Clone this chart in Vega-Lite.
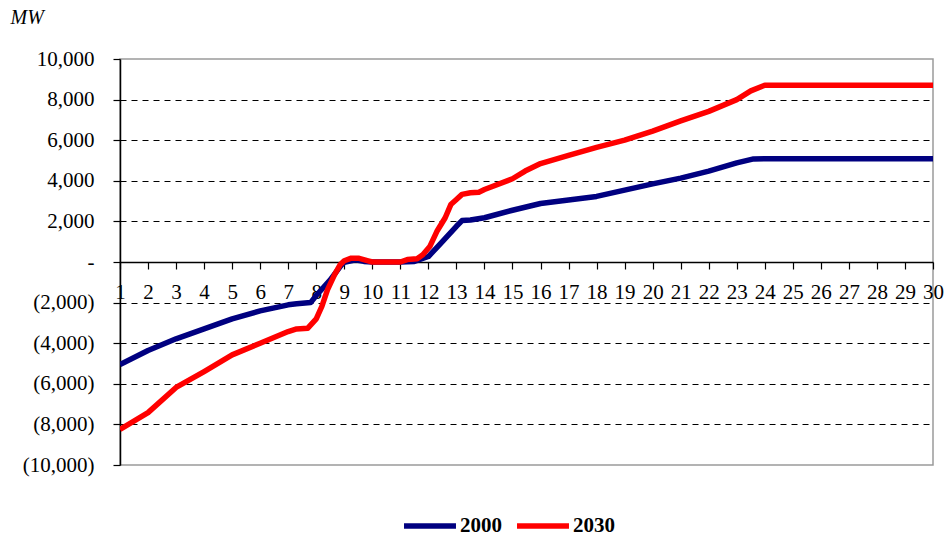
{
  "$schema": "https://vega.github.io/schema/vega-lite/v6.json",
  "autosize": {"type": "none"},
  "padding": {"left": 120, "top": 59, "right": 13, "bottom": 71},
  "width": 813,
  "height": 406,
  "background": "white",
  "config": {
    "font": "'Liberation Serif', 'Times New Roman', serif",
    "view": {"stroke": "#9a9a9a", "strokeWidth": 1.5}
  },
  "data": {
    "values": [
      {"x": 1, "series": "2000", "mw": -5050},
      {"x": 2, "series": "2000", "mw": -4360},
      {"x": 3, "series": "2000", "mw": -3785},
      {"x": 4, "series": "2000", "mw": -3290},
      {"x": 5, "series": "2000", "mw": -2800},
      {"x": 6, "series": "2000", "mw": -2405},
      {"x": 7, "series": "2000", "mw": -2110},
      {"x": 7.3, "series": "2000", "mw": -2060},
      {"x": 7.8, "series": "2000", "mw": -2000},
      {"x": 8, "series": "2000", "mw": -1650},
      {"x": 8.5, "series": "2000", "mw": -880},
      {"x": 8.9, "series": "2000", "mw": -140},
      {"x": 9, "series": "2000", "mw": -20},
      {"x": 9.4, "series": "2000", "mw": 110},
      {"x": 9.7, "series": "2000", "mw": 30},
      {"x": 10, "series": "2000", "mw": 0},
      {"x": 11, "series": "2000", "mw": 0},
      {"x": 11.5, "series": "2000", "mw": 30},
      {"x": 12, "series": "2000", "mw": 270},
      {"x": 12.4, "series": "2000", "mw": 860},
      {"x": 13, "series": "2000", "mw": 1760},
      {"x": 13.2, "series": "2000", "mw": 2040},
      {"x": 13.5, "series": "2000", "mw": 2070},
      {"x": 14, "series": "2000", "mw": 2180},
      {"x": 15, "series": "2000", "mw": 2550},
      {"x": 16, "series": "2000", "mw": 2880},
      {"x": 17, "series": "2000", "mw": 3050},
      {"x": 18, "series": "2000", "mw": 3230},
      {"x": 19, "series": "2000", "mw": 3540},
      {"x": 20, "series": "2000", "mw": 3850},
      {"x": 21, "series": "2000", "mw": 4130},
      {"x": 22, "series": "2000", "mw": 4480},
      {"x": 23, "series": "2000", "mw": 4880},
      {"x": 23.6, "series": "2000", "mw": 5080},
      {"x": 24, "series": "2000", "mw": 5090},
      {"x": 25, "series": "2000", "mw": 5090},
      {"x": 26, "series": "2000", "mw": 5090},
      {"x": 27, "series": "2000", "mw": 5090},
      {"x": 28, "series": "2000", "mw": 5090},
      {"x": 29, "series": "2000", "mw": 5090},
      {"x": 30, "series": "2000", "mw": 5090},
      {"x": 1, "series": "2030", "mw": -8250},
      {"x": 2, "series": "2030", "mw": -7420},
      {"x": 3, "series": "2030", "mw": -6180},
      {"x": 4, "series": "2030", "mw": -5395},
      {"x": 5, "series": "2030", "mw": -4575},
      {"x": 6, "series": "2030", "mw": -4000},
      {"x": 7, "series": "2030", "mw": -3425},
      {"x": 7.3, "series": "2030", "mw": -3295},
      {"x": 7.7, "series": "2030", "mw": -3260},
      {"x": 8, "series": "2030", "mw": -2800},
      {"x": 8.2, "series": "2030", "mw": -2190},
      {"x": 8.4, "series": "2030", "mw": -1370},
      {"x": 8.65, "series": "2030", "mw": -630},
      {"x": 8.85, "series": "2030", "mw": -140},
      {"x": 9, "series": "2030", "mw": 60},
      {"x": 9.25, "series": "2030", "mw": 190},
      {"x": 9.5, "series": "2030", "mw": 190},
      {"x": 9.85, "series": "2030", "mw": 60},
      {"x": 10, "series": "2030", "mw": 0},
      {"x": 11, "series": "2030", "mw": 0},
      {"x": 11.25, "series": "2030", "mw": 120},
      {"x": 11.6, "series": "2030", "mw": 160},
      {"x": 11.8, "series": "2030", "mw": 360},
      {"x": 12.05, "series": "2030", "mw": 760},
      {"x": 12.3, "series": "2030", "mw": 1500},
      {"x": 12.6, "series": "2030", "mw": 2180},
      {"x": 12.8, "series": "2030", "mw": 2830},
      {"x": 13, "series": "2030", "mw": 3080},
      {"x": 13.2, "series": "2030", "mw": 3330},
      {"x": 13.5, "series": "2030", "mw": 3410},
      {"x": 13.8, "series": "2030", "mw": 3440},
      {"x": 14, "series": "2030", "mw": 3570},
      {"x": 15, "series": "2030", "mw": 4100},
      {"x": 15.45, "series": "2030", "mw": 4480},
      {"x": 16, "series": "2030", "mw": 4850},
      {"x": 17, "series": "2030", "mw": 5250},
      {"x": 18, "series": "2030", "mw": 5650},
      {"x": 19, "series": "2030", "mw": 6000},
      {"x": 20, "series": "2030", "mw": 6450},
      {"x": 21, "series": "2030", "mw": 6950},
      {"x": 22, "series": "2030", "mw": 7420},
      {"x": 23, "series": "2030", "mw": 8000},
      {"x": 23.5, "series": "2030", "mw": 8430},
      {"x": 24, "series": "2030", "mw": 8710},
      {"x": 25, "series": "2030", "mw": 8710},
      {"x": 26, "series": "2030", "mw": 8710},
      {"x": 27, "series": "2030", "mw": 8710},
      {"x": 28, "series": "2030", "mw": 8710},
      {"x": 29, "series": "2030", "mw": 8710},
      {"x": 30, "series": "2030", "mw": 8710}
    ]
  },
  "mark": {"type": "line", "strokeWidth": 5.5, "strokeJoin": "round", "clip": true},
  "encoding": {
    "x": {
      "field": "x",
      "type": "quantitative",
      "scale": {"domain": [1, 30], "nice": false, "zero": false},
      "axis": {
        "title": null,
        "orient": "bottom",
        "offset": -203,
        "values": [1,2,3,4,5,6,7,8,9,10,11,12,13,14,15,16,17,18,19,20,21,22,23,24,25,26,27,28,29,30],
        "format": "d",
        "grid": false,
        "domainColor": "black",
        "domainWidth": 1.5,
        "tickColor": "black",
        "tickSize": 7,
        "tickWidth": 1.2,
        "labelFont": "'Liberation Serif', 'Times New Roman', serif",
        "labelFontSize": 21,
        "labelColor": "black",
        "labelPadding": 12,
        "labelOverlap": false,
        "labelFlush": false,
        "zindex": 0
      }
    },
    "y": {
      "field": "mw",
      "type": "quantitative",
      "scale": {"domain": [-10000, 10000], "nice": false},
      "axis": {
        "title": "MW",
        "titleAngle": 0,
        "titleFont": "'Liberation Serif', 'Times New Roman', serif",
        "titleFontStyle": "italic",
        "titleFontWeight": "normal",
        "titleFontSize": 20,
        "titleColor": "black",
        "titleAlign": "left",
        "titleBaseline": "alphabetic",
        "titleX": -110,
        "titleY": -36,
        "values": [-10000, -8000, -6000, -4000, -2000, 0, 2000, 4000, 6000, 8000, 10000],
        "labelExpr": "datum.value < 0 ? '(' + format(-datum.value, ',') + ')' : (datum.value == 0 ? '-' : format(datum.value, ','))",
        "labelFont": "'Liberation Serif', 'Times New Roman', serif",
        "labelFontSize": 21,
        "labelColor": "black",
        "labelPadding": 19,
        "domainColor": "black",
        "domainWidth": 1.5,
        "tickColor": "black",
        "tickSize": 7,
        "tickWidth": 1.2,
        "grid": true,
        "gridColor": "black",
        "gridWidth": 1,
        "gridDash": [6, 5],
        "gridOpacity": {"condition": {"test": "abs(datum.value) == 10000 || datum.value == 0", "value": 0}, "value": 1}
      }
    },
    "color": {
      "field": "series",
      "type": "nominal",
      "scale": {"domain": ["2000", "2030"], "range": ["#000080", "#ff0000"]},
      "legend": {
        "title": null,
        "orient": "none",
        "direction": "horizontal",
        "legendX": 281,
        "legendY": 438,
        "symbolType": "stroke",
        "symbolSize": 2700,
        "symbolStrokeWidth": 5.5,
        "labelFont": "'Liberation Serif', 'Times New Roman', serif",
        "labelFontSize": 21,
        "labelFontWeight": "bold",
        "labelColor": "black",
        "labelOffset": 1,
        "columnPadding": 4
      }
    }
  }
}
